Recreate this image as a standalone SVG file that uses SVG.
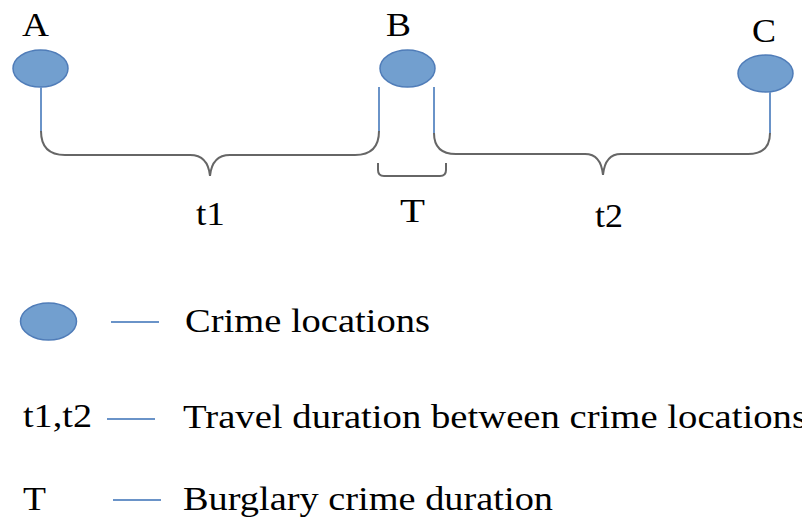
<svg xmlns="http://www.w3.org/2000/svg" width="802" height="521" viewBox="0 0 802 521">
  <style>
    .loc { fill: #729fcf; stroke: #4f7cb8; stroke-width: 1.5; }
    .stem { fill: none; stroke: #6a93c8; stroke-width: 2; }
    .brace { fill: none; stroke: #666666; stroke-width: 2; }
    .lbl { font-family: "Liberation Serif", "Times New Roman", serif; font-size: 34px; fill: #000000; }
  </style>
  <rect width="802" height="521" fill="#ffffff"/>

  <!-- crime locations -->
  <g id="node-A">
    <ellipse class="loc" cx="40.5" cy="68.5" rx="27.5" ry="18.5"/>
    <text class="lbl" x="22" y="36" textLength="27" lengthAdjust="spacingAndGlyphs">A</text>
  </g>
  <g id="node-B">
    <ellipse class="loc" cx="407.5" cy="68.5" rx="27.5" ry="18.5"/>
    <text class="lbl" x="386" y="36" textLength="25" lengthAdjust="spacingAndGlyphs">B</text>
  </g>
  <g id="node-C">
    <ellipse class="loc" cx="765.5" cy="73.5" rx="27.5" ry="18.5"/>
    <text class="lbl" x="752" y="42" textLength="24" lengthAdjust="spacingAndGlyphs">C</text>
  </g>

  <!-- stems and braces -->
  <g id="connectors">
    <line class="stem" x1="41" y1="87" x2="41" y2="131"/>
    <line class="stem" x1="379" y1="87" x2="379" y2="131"/>
    <line class="stem" x1="434" y1="87" x2="434" y2="133"/>
    <line class="stem" x1="770" y1="92" x2="770" y2="133"/>
    <path class="brace" d="M41,131 Q41,155 65,155 L190,155 Q208,155 210,176 Q212,155 230,155 L355,155 Q379,155 379,131"/>
    <path class="brace" d="M434,133 Q434,154 456,154 L585,154 Q601,154 603,175 Q605,154 621,154 L748,154 Q770,154 770,133"/>
    <path class="brace" d="M378,163 L378,170 Q378,176 384,176 L440,176 Q446,176 446,170 L446,163"/>
  </g>

  <g id="durations">
    <text class="lbl" x="196" y="225" textLength="29" lengthAdjust="spacingAndGlyphs">t1</text>
    <text class="lbl" x="400" y="222" textLength="25" lengthAdjust="spacingAndGlyphs">T</text>
    <text class="lbl" x="595" y="227" textLength="28" lengthAdjust="spacingAndGlyphs">t2</text>
  </g>

  <!-- legend -->
  <g id="legend-locations">
    <ellipse class="loc" cx="48.5" cy="321.5" rx="28" ry="18.5"/>
    <line class="stem" x1="111" y1="322" x2="159" y2="322"/>
    <text class="lbl" x="185" y="332" textLength="245" lengthAdjust="spacingAndGlyphs">Crime locations</text>
  </g>
  <g id="legend-travel">
    <text class="lbl" x="23" y="427" textLength="69" lengthAdjust="spacingAndGlyphs">t1,t2</text>
    <line class="stem" x1="107" y1="419" x2="155" y2="419"/>
    <text class="lbl" x="183" y="428" textLength="624" lengthAdjust="spacingAndGlyphs">Travel duration between crime locations</text>
  </g>
  <g id="legend-burglary">
    <text class="lbl" x="23" y="510" textLength="23" lengthAdjust="spacingAndGlyphs">T</text>
    <line class="stem" x1="113" y1="500" x2="161" y2="500"/>
    <text class="lbl" x="183" y="510" textLength="370" lengthAdjust="spacingAndGlyphs">Burglary crime duration</text>
  </g>
</svg>
